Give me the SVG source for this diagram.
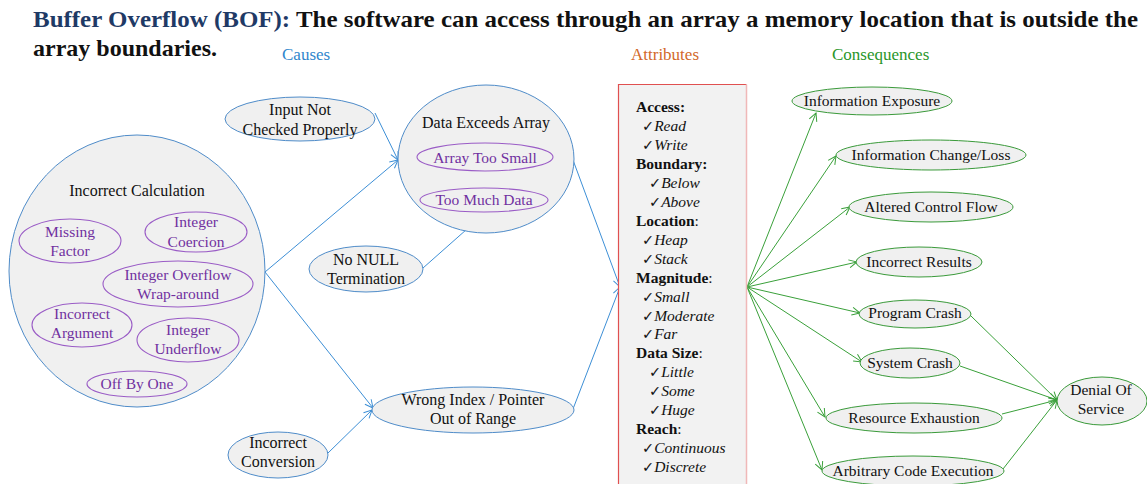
<svg xmlns="http://www.w3.org/2000/svg" width="1147" height="484" viewBox="0 0 1147 484">
<style>
text{font-family:"Liberation Serif","Times New Roman",serif;fill:#111}
.t{font-size:16px;text-anchor:middle}
.p{font-size:15.5px;text-anchor:middle;fill:#7030a0}
.c{font-size:15.5px;text-anchor:middle}
.nb{fill:#f0f0f0;stroke:#4f8cc9;stroke-width:1}
.np{fill:none;stroke:#9a5cc6;stroke-width:1.1}
.ng{fill:#f0f0f0;stroke:#3a9a3a;stroke-width:1}
.eb{fill:none;stroke:#3d8fd6;stroke-width:1;marker-end:url(#ab)}
.eg{fill:none;stroke:#3aa03a;stroke-width:1;marker-end:url(#ag)}
.a{font-size:15.5px}
.h{font-weight:bold}
.i{font-style:italic}
.ck{font-family:"DejaVu Sans",sans-serif;font-style:normal;font-size:14.5px}
</style>
<defs>
<marker id="ab" viewBox="0 0 10 10" refX="9" refY="5" markerWidth="10" markerHeight="10" markerUnits="userSpaceOnUse" orient="auto"><path d="M1,1 L9,5 L1,9" fill="none" stroke="#3d8fd6" stroke-width="1"/></marker>
<marker id="ag" viewBox="0 0 10 10" refX="9" refY="5" markerWidth="10" markerHeight="10" markerUnits="userSpaceOnUse" orient="auto"><path d="M1,1 L9,5 L1,9" fill="none" stroke="#3aa03a" stroke-width="1"/></marker>
</defs>
<rect width="1147" height="484" fill="#ffffff"/>
<g id="title">
<text x="33" y="27" font-size="24" font-weight="bold" textLength="1105" lengthAdjust="spacingAndGlyphs"><tspan style="fill:#1f3a66">Buffer Overflow (BOF):</tspan> The software can access through an array a memory location that is outside the</text>
<text x="33" y="56" font-size="24" font-weight="bold">array boundaries.</text>
</g>
<g id="headers">
<text x="282" y="60" font-size="17" style="fill:#2f86cc">Causes</text>
<text x="631" y="60" font-size="17" style="fill:#d2692a">Attributes</text>
<text x="832" y="60" font-size="17" style="fill:#2a962a">Consequences</text>
</g>
<g id="connectors">
<line class="eb" x1="375" y1="113" x2="398" y2="160"/>
<line class="eb" x1="265" y1="272" x2="398" y2="160"/>
<line class="eb" x1="423" y1="268" x2="484" y2="214"/>
<line class="eb" x1="265" y1="272" x2="373" y2="408"/>
<line class="eb" x1="328" y1="453" x2="372" y2="410"/>
<line class="eb" x1="573" y1="160" x2="620" y2="287"/>
<line class="eb" x1="573" y1="409" x2="620" y2="287"/>
<line class="eg" x1="747" y1="287" x2="816" y2="113"/>
<line class="eg" x1="747" y1="287" x2="836" y2="156"/>
<line class="eg" x1="747" y1="287" x2="850" y2="207"/>
<line class="eg" x1="747" y1="287" x2="857" y2="262"/>
<line class="eg" x1="747" y1="287" x2="860" y2="313"/>
<line class="eg" x1="747" y1="287" x2="862" y2="362"/>
<line class="eg" x1="747" y1="287" x2="825" y2="417"/>
<line class="eg" x1="747" y1="287" x2="822" y2="470"/>
<line class="eg" x1="971" y1="316" x2="1057" y2="400"/>
<line class="eg" x1="960" y1="366" x2="1057" y2="400"/>
<line class="eg" x1="1002" y1="414" x2="1057" y2="400"/>
<line class="eg" x1="1003" y1="469" x2="1057" y2="400"/>
</g>
<g id="incorrect-calculation">
<ellipse class="nb" cx="137" cy="271" rx="128" ry="136"/>
<text class="t" x="137" y="196">Incorrect Calculation</text>
</g>
<g id="missing-factor">
<ellipse class="np" cx="70" cy="241" rx="51" ry="22"/>
<text class="p" x="70" y="237">Missing</text><text class="p" x="70" y="256">Factor</text>
</g>
<g id="integer-coercion">
<ellipse class="np" cx="196" cy="232" rx="51" ry="20"/>
<text class="p" x="196" y="227">Integer</text><text class="p" x="196" y="247">Coercion</text>
</g>
<g id="integer-overflow">
<ellipse class="np" cx="178" cy="284" rx="75" ry="23"/>
<text class="p" x="178" y="280">Integer Overflow</text><text class="p" x="178" y="299">Wrap-around</text>
</g>
<g id="incorrect-argument">
<ellipse class="np" cx="82" cy="325" rx="50" ry="22"/>
<text class="p" x="82" y="319">Incorrect</text><text class="p" x="82" y="338">Argument</text>
</g>
<g id="integer-underflow">
<ellipse class="np" cx="188" cy="340" rx="51" ry="22"/>
<text class="p" x="188" y="335">Integer</text><text class="p" x="188" y="354">Underflow</text>
</g>
<g id="off-by-one">
<ellipse class="np" cx="137" cy="384" rx="50" ry="13"/>
<text class="p" x="137" y="389">Off By One</text>
</g>
<g id="input-not-checked">
<ellipse class="nb" cx="300" cy="119" rx="75" ry="22"/>
<text class="t" x="300" y="115">Input Not</text><text class="t" x="300" y="135">Checked Properly</text>
</g>
<g id="data-exceeds-array">
<ellipse class="nb" cx="486" cy="159" rx="88" ry="74"/>
<text class="t" x="486" y="128">Data Exceeds  Array</text>
</g>
<g id="array-too-small">
<ellipse class="np" cx="485" cy="157" rx="68" ry="14"/>
<text class="p" x="485" y="163">Array Too Small</text>
</g>
<g id="too-much-data">
<ellipse class="np" cx="484" cy="200" rx="64" ry="12"/>
<text class="p" x="484" y="205">Too Much Data</text>
</g>
<g id="no-null-termination">
<ellipse class="nb" cx="366" cy="269" rx="57" ry="23"/>
<text class="t" x="366" y="265">No NULL</text><text class="t" x="366" y="284">Termination</text>
</g>
<g id="wrong-index">
<ellipse class="nb" cx="473" cy="410" rx="101" ry="23"/>
<text class="t" x="473" y="405">Wrong Index / Pointer</text><text class="t" x="473" y="424">Out of Range</text>
</g>
<g id="incorrect-conversion">
<ellipse class="nb" cx="278" cy="455" rx="50" ry="23"/>
<text class="t" x="278" y="448">Incorrect</text><text class="t" x="278" y="467">Conversion</text>
</g>
<g id="attributes">
<rect x="618.5" y="84.5" width="128" height="410" fill="#f2f2f2"/>
<path d="M618.5,494 V84.5 H746.5" fill="none" stroke="#e05050" stroke-width="1.2"/>
<path d="M746.5,84.5 V494" fill="none" stroke="#f0b8b8" stroke-width="1.5"/>
<text class="a h" x="636" y="112">Access:</text>
<text class="a i" x="642" y="131"><tspan class="ck">✓</tspan>Read</text>
<text class="a i" x="642" y="150"><tspan class="ck">✓</tspan>Write</text>
<text class="a h" x="636" y="169">Boundary:</text>
<text class="a i" x="649" y="188"><tspan class="ck">✓</tspan>Below</text>
<text class="a i" x="649" y="207"><tspan class="ck">✓</tspan>Above</text>
<text class="a" x="636" y="226"><tspan class="h">Location</tspan>:</text>
<text class="a i" x="642" y="245"><tspan class="ck">✓</tspan>Heap</text>
<text class="a i" x="642" y="264"><tspan class="ck">✓</tspan>Stack</text>
<text class="a" x="636" y="283"><tspan class="h">Magnitude</tspan>:</text>
<text class="a i" x="642" y="302"><tspan class="ck">✓</tspan>Small</text>
<text class="a i" x="642" y="321"><tspan class="ck">✓</tspan>Moderate</text>
<text class="a i" x="642" y="339"><tspan class="ck">✓</tspan>Far</text>
<text class="a" x="636" y="358"><tspan class="h">Data Size</tspan>:</text>
<text class="a i" x="649" y="377"><tspan class="ck">✓</tspan>Little</text>
<text class="a i" x="649" y="396"><tspan class="ck">✓</tspan>Some</text>
<text class="a i" x="649" y="415"><tspan class="ck">✓</tspan>Huge</text>
<text class="a" x="636" y="434"><tspan class="h">Reach</tspan>:</text>
<text class="a i" x="642" y="453"><tspan class="ck">✓</tspan>Continuous</text>
<text class="a i" x="642" y="472"><tspan class="ck">✓</tspan>Discrete</text>
</g>
<g id="information-exposure">
<ellipse class="ng" cx="872" cy="101" rx="80" ry="14"/>
<text class="c" x="872" y="106">Information Exposure</text>
</g>
<g id="information-change">
<ellipse class="ng" cx="931" cy="155" rx="95" ry="15"/>
<text class="c" x="931" y="160">Information Change/Loss</text>
</g>
<g id="altered-control-flow">
<ellipse class="ng" cx="931" cy="207" rx="82" ry="15"/>
<text class="c" x="931" y="212">Altered Control Flow</text>
</g>
<g id="incorrect-results">
<ellipse class="ng" cx="919" cy="262" rx="63" ry="15"/>
<text class="c" x="919" y="267">Incorrect Results</text>
</g>
<g id="program-crash">
<ellipse class="ng" cx="915" cy="314" rx="56" ry="14"/>
<text class="c" x="915" y="318">Program Crash</text>
</g>
<g id="system-crash">
<ellipse class="ng" cx="910" cy="363" rx="50" ry="15"/>
<text class="c" x="910" y="368">System Crash</text>
</g>
<g id="resource-exhaustion">
<ellipse class="ng" cx="914" cy="418" rx="88" ry="15"/>
<text class="c" x="914" y="423">Resource Exhaustion</text>
</g>
<g id="arbitrary-code-execution">
<ellipse class="ng" cx="913" cy="471" rx="91" ry="15"/>
<text class="c" x="913" y="476">Arbitrary Code Execution</text>
</g>
<g id="denial-of-service">
<ellipse class="ng" cx="1102" cy="401" rx="45" ry="24"/>
<text class="c" x="1101" y="395">Denial Of</text><text class="c" x="1101" y="414">Service</text>
</g>
</svg>
